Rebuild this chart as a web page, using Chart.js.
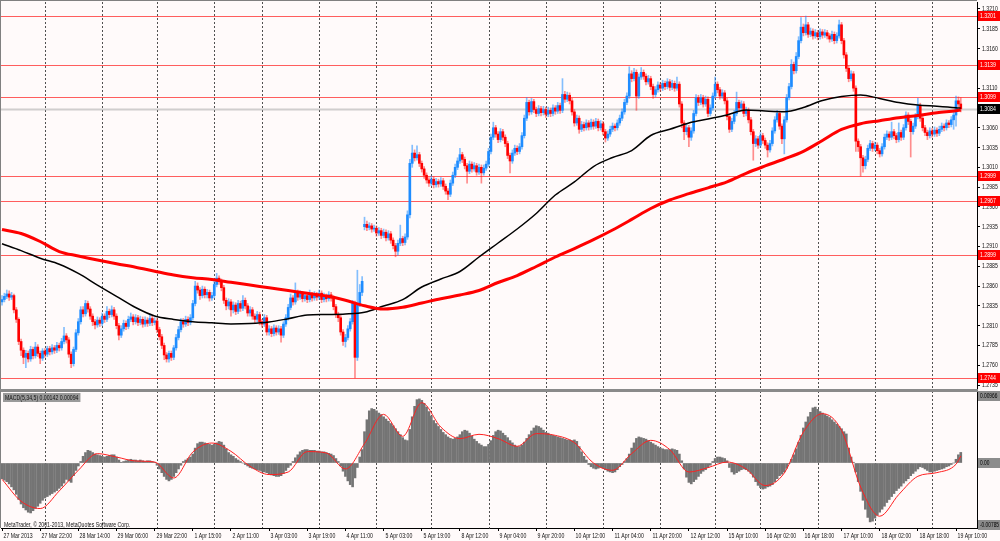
<!DOCTYPE html>
<html>
<head>
<meta charset="utf-8">
<script src="https://cdn.jsdelivr.net/npm/chart.js"></script>
<style>
html,body{margin:0;padding:0;background:#fffafa;}
#wrap{position:relative;width:1000px;height:541px;overflow:hidden;background:#fffafa;}
canvas{position:absolute;left:0;}
</style>
</head>
<body>
<div id="wrap">
<canvas id="main" width="1000" height="391" style="top:0"></canvas>
<canvas id="macd" width="1000" height="150" style="top:391px"></canvas>
</div>
<script>
// ---------------- DATA ----------------
const timeLabels = ["27 Mar 2013","27 Mar 22:00","28 Mar 14:00","29 Mar 06:00","29 Mar 22:00","1 Apr 15:00","2 Apr 11:00","3 Apr 03:00","3 Apr 19:00","4 Apr 11:00","5 Apr 03:00","5 Apr 19:00","8 Apr 12:00","9 Apr 04:00","9 Apr 20:00","10 Apr 12:00","11 Apr 04:00","11 Apr 20:00","12 Apr 12:00","15 Apr 10:00","16 Apr 02:00","16 Apr 18:00","17 Apr 10:00","18 Apr 02:00","18 Apr 18:00","19 Apr 10:00"];
const timeLabelBars = [0,16,32,48,64,80,96,112,128,144,160,176,192,208,224,240,256,272,288,304,320,336,352,368,384,400];
const dayLines = [18,42,65,89,109,133,157,180,204,228,252,276,299,318,342,366,390];
const priceTicks = [1.2735,1.2760,1.2785,1.2810,1.2835,1.2860,1.2885,1.2910,1.2935,1.2960,1.2985,1.3010,1.3035,1.3060,1.3085,1.3110,1.3135,1.3160,1.3185,1.3210];
const levels = [1.3201,1.3139,1.3099,1.2999,1.2967,1.2899,1.2744];
const currentPrice = 1.3084;
const macdTitle = "MACD(5,34,5) 0.00142 0.00094";
const macdScaleLabels = ["0.00966","0.00","-0.00785"];
const copyright = "MetaTrader, \u00A9 2001-2013, MetaQuotes Software Corp.";

const open = [
1.2840,1.2843,1.2847,1.2850,1.2846,1.2848,1.2830,1.2818,1.2790,1.2779,
1.2770,1.2775,1.2768,1.2780,1.2772,1.2783,1.2775,1.2769,1.2778,1.2774,
1.2781,1.2777,1.2782,1.2779,1.2785,1.2782,1.2790,1.2797,1.2792,1.2774,
1.2762,1.2780,1.2801,1.2815,1.2830,1.2825,1.2838,1.2831,1.2822,1.2815,
1.2811,1.2817,1.2813,1.2822,1.2818,1.2828,1.2824,1.2830,1.2822,1.2810,
1.2798,1.2806,1.2813,1.2809,1.2818,1.2821,1.2815,1.2820,1.2814,1.2818,
1.2812,1.2817,1.2813,1.2819,1.2814,1.2816,1.2805,1.2796,1.2785,1.2773,
1.2768,1.2775,1.2770,1.2782,1.2795,1.2805,1.2815,1.2812,1.2818,1.2814,
1.2820,1.2838,1.2860,1.2855,1.2848,1.2856,1.2849,1.2852,1.2845,1.2848,
1.2862,1.2870,1.2866,1.2858,1.2842,1.2835,1.2840,1.2830,1.2836,1.2828,
1.2838,1.2832,1.2842,1.2835,1.2826,1.2830,1.2822,1.2818,1.2824,1.2815,
1.2812,1.2820,1.2802,1.2806,1.2800,1.2807,1.2802,1.2806,1.2798,1.2812,
1.2820,1.2833,1.2845,1.2840,1.2852,1.2846,1.2850,1.2844,1.2848,1.2843,
1.2849,1.2845,1.2849,1.2846,1.2851,1.2843,1.2847,1.2844,1.2849,1.2845,
1.2834,1.2824,1.2820,1.2802,1.2790,1.2795,1.2806,1.2815,1.2838,1.2770,
1.2838,1.2852,1.2935,1.2938,1.2934,1.2936,1.2932,1.2933,1.2927,1.2930,
1.2924,1.2928,1.2921,1.2926,1.2918,1.2911,1.2904,1.2914,1.2920,1.2915,
1.2922,1.2950,1.3015,1.3028,1.3022,1.3026,1.3015,1.3008,1.3000,1.2994,
1.2990,1.2995,1.2988,1.2992,1.2989,1.2993,1.2986,1.2980,1.2976,1.2990,
1.3000,1.3010,1.3018,1.3026,1.3020,1.3012,1.3005,1.3014,1.3008,1.3012,
1.3004,1.3010,1.3003,1.3009,1.3014,1.3030,1.3048,1.3060,1.3052,1.3045,
1.3055,1.3048,1.3040,1.3025,1.3018,1.3028,1.3034,1.3030,1.3036,1.3050,
1.3072,1.3092,1.3080,1.3093,1.3083,1.3078,1.3084,1.3079,1.3083,1.3077,
1.3082,1.3078,1.3085,1.3081,1.3088,1.3082,1.3102,1.3096,1.3101,1.3094,
1.3080,1.3066,1.3072,1.3058,1.3064,1.3060,1.3066,1.3061,1.3067,1.3062,
1.3068,1.3060,1.3065,1.3055,1.3047,1.3052,1.3058,1.3062,1.3060,1.3066,
1.3072,1.3080,1.3092,1.3100,1.3128,1.3122,1.3130,1.3100,1.3124,1.3130,
1.3125,1.3118,1.3122,1.3112,1.3102,1.3108,1.3114,1.3110,1.3116,1.3112,
1.3118,1.3111,1.3116,1.3110,1.3115,1.3090,1.3066,1.3055,1.3060,1.3048,
1.3056,1.3078,1.3098,1.3092,1.3098,1.3090,1.3096,1.3078,1.3085,1.3100,
1.3115,1.3108,1.3100,1.3104,1.3094,1.3074,1.3058,1.3068,1.3078,1.3092,
1.3085,1.3090,1.3078,1.3082,1.3070,1.3055,1.3040,1.3046,1.3038,1.3050,
1.3044,1.3038,1.3032,1.3040,1.3056,1.3070,1.3078,1.3062,1.3046,1.3070,
1.3098,1.3112,1.3140,1.3132,1.3150,1.3170,1.3187,1.3180,1.3190,1.3178,
1.3182,1.3176,1.3180,1.3175,1.3181,1.3177,1.3180,1.3176,1.3172,1.3178,
1.3170,1.3176,1.3190,1.3170,1.3152,1.3135,1.3122,1.3128,1.3110,1.3043,
1.3036,1.3022,1.3012,1.3020,1.3034,1.3040,1.3034,1.3038,1.3031,1.3027,
1.3036,1.3048,1.3052,1.3048,1.3055,1.3050,1.3045,1.3054,1.3048,1.3060,
1.3076,1.3068,1.3055,1.3062,1.3074,1.3088,1.3072,1.3060,1.3054,1.3050,
1.3056,1.3052,1.3057,1.3053,1.3058,1.3062,1.3060,1.3066,1.3064,1.3070,
1.3076,1.3094,1.3090];

const high = [
1.2848,1.2851,1.2855,1.2854,1.2852,1.2850,1.2833,1.2820,1.2793,1.2782,
1.2779,1.2778,1.2784,1.2783,1.2789,1.2786,1.2778,1.2781,1.2781,1.2784,
1.2784,1.2786,1.2785,1.2789,1.2788,1.2794,1.2808,1.2800,1.2795,1.2777,
1.2783,1.2805,1.2819,1.2834,1.2834,1.2842,1.2841,1.2834,1.2825,1.2818,
1.2821,1.2820,1.2826,1.2825,1.2834,1.2831,1.2835,1.2833,1.2825,1.2813,
1.2810,1.2817,1.2816,1.2822,1.2826,1.2824,1.2824,1.2823,1.2822,1.2821,
1.2821,1.2820,1.2824,1.2822,1.2820,1.2819,1.2808,1.2799,1.2788,1.2776,
1.2778,1.2778,1.2785,1.2799,1.2809,1.2819,1.2819,1.2822,1.2821,1.2824,
1.2842,1.2866,1.2864,1.2858,1.2860,1.2859,1.2856,1.2855,1.2852,1.2866,
1.2876,1.2873,1.2869,1.2861,1.2845,1.2844,1.2843,1.2840,1.2839,1.2842,
1.2841,1.2848,1.2845,1.2838,1.2834,1.2833,1.2825,1.2828,1.2827,1.2818,
1.2824,1.2823,1.2810,1.2809,1.2811,1.2810,1.2810,1.2809,1.2815,1.2824,
1.2837,1.2850,1.2848,1.2864,1.2855,1.2854,1.2853,1.2852,1.2851,1.2855,
1.2852,1.2853,1.2852,1.2855,1.2854,1.2851,1.2850,1.2853,1.2852,1.2848,
1.2837,1.2827,1.2823,1.2805,1.2799,1.2810,1.2819,1.2842,1.2841,1.2880,
1.2862,1.2872,1.2947,1.2942,1.2940,1.2939,1.2937,1.2936,1.2934,1.2933,
1.2932,1.2931,1.2930,1.2929,1.2921,1.2914,1.2918,1.2937,1.2923,1.2926,
1.2955,1.3020,1.3038,1.3032,1.3037,1.3029,1.3018,1.3011,1.3003,1.2997,
1.2999,1.2998,1.2996,1.2995,1.2997,1.2996,1.2989,1.2983,1.2994,1.3004,
1.3014,1.3022,1.3034,1.3029,1.3023,1.3015,1.3018,1.3017,1.3016,1.3015,
1.3014,1.3013,1.3013,1.3018,1.3034,1.3052,1.3067,1.3063,1.3055,1.3059,
1.3058,1.3051,1.3043,1.3028,1.3032,1.3038,1.3037,1.3040,1.3054,1.3076,
1.3098,1.3095,1.3097,1.3096,1.3086,1.3088,1.3087,1.3087,1.3086,1.3086,
1.3085,1.3089,1.3088,1.3092,1.3091,1.3122,1.3106,1.3105,1.3104,1.3097,
1.3083,1.3076,1.3075,1.3068,1.3067,1.3070,1.3069,1.3071,1.3070,1.3072,
1.3071,1.3069,1.3068,1.3058,1.3056,1.3062,1.3066,1.3065,1.3070,1.3076,
1.3084,1.3096,1.3104,1.3137,1.3132,1.3135,1.3133,1.3128,1.3136,1.3133,
1.3128,1.3126,1.3125,1.3115,1.3112,1.3118,1.3117,1.3120,1.3119,1.3122,
1.3121,1.3120,1.3119,1.3124,1.3118,1.3093,1.3069,1.3064,1.3063,1.3060,
1.3082,1.3102,1.3101,1.3102,1.3101,1.3100,1.3099,1.3089,1.3104,1.3124,
1.3118,1.3111,1.3108,1.3107,1.3097,1.3077,1.3072,1.3082,1.3105,1.3095,
1.3094,1.3093,1.3086,1.3085,1.3073,1.3058,1.3050,1.3049,1.3054,1.3053,
1.3047,1.3041,1.3044,1.3060,1.3074,1.3082,1.3081,1.3065,1.3074,1.3102,
1.3116,1.3146,1.3143,1.3155,1.3175,1.3199,1.3191,1.3201,1.3193,1.3186,
1.3185,1.3184,1.3183,1.3185,1.3184,1.3184,1.3183,1.3179,1.3182,1.3181,
1.3180,1.3196,1.3193,1.3173,1.3155,1.3138,1.3132,1.3131,1.3113,1.3046,
1.3039,1.3025,1.3024,1.3038,1.3044,1.3043,1.3042,1.3041,1.3034,1.3040,
1.3052,1.3056,1.3055,1.3067,1.3058,1.3053,1.3066,1.3057,1.3064,1.3080,
1.3079,1.3071,1.3066,1.3078,1.3097,1.3091,1.3075,1.3063,1.3057,1.3060,
1.3059,1.3061,1.3060,1.3062,1.3066,1.3065,1.3070,1.3069,1.3074,1.3080,
1.3100,1.3099,1.3098];

const low = [
1.2836,1.2840,1.2844,1.2842,1.2843,1.2826,1.2814,1.2786,1.2772,1.2762,
1.2757,1.2764,1.2765,1.2768,1.2769,1.2771,1.2762,1.2766,1.2770,1.2771,
1.2773,1.2774,1.2775,1.2776,1.2778,1.2779,1.2787,1.2788,1.2770,1.2757,
1.2759,1.2777,1.2798,1.2812,1.2821,1.2822,1.2827,1.2818,1.2810,1.2806,
1.2808,1.2809,1.2810,1.2814,1.2815,1.2820,1.2821,1.2818,1.2806,1.2792,
1.2795,1.2803,1.2805,1.2806,1.2815,1.2811,1.2812,1.2810,1.2811,1.2808,
1.2809,1.2809,1.2810,1.2810,1.2811,1.2801,1.2792,1.2781,1.2767,1.2764,
1.2764,1.2766,1.2767,1.2779,1.2792,1.2802,1.2808,1.2809,1.2810,1.2811,
1.2817,1.2835,1.2851,1.2843,1.2845,1.2845,1.2845,1.2841,1.2842,1.2845,
1.2859,1.2862,1.2854,1.2838,1.2830,1.2831,1.2822,1.2826,1.2824,1.2825,
1.2828,1.2829,1.2831,1.2822,1.2822,1.2818,1.2814,1.2815,1.2811,1.2808,
1.2809,1.2798,1.2798,1.2796,1.2797,1.2798,1.2799,1.2789,1.2795,1.2809,
1.2817,1.2830,1.2836,1.2837,1.2842,1.2843,1.2840,1.2841,1.2839,1.2840,
1.2841,1.2842,1.2842,1.2843,1.2839,1.2840,1.2840,1.2841,1.2841,1.2830,
1.2820,1.2815,1.2798,1.2785,1.2783,1.2792,1.2803,1.2812,1.2744,1.2766,
1.2834,1.2848,1.2931,1.2930,1.2931,1.2928,1.2929,1.2923,1.2924,1.2920,
1.2921,1.2917,1.2918,1.2914,1.2907,1.2897,1.2899,1.2911,1.2911,1.2912,
1.2919,1.2946,1.3010,1.3018,1.3019,1.3011,1.3004,1.2996,1.2990,1.2986,
1.2987,1.2984,1.2985,1.2985,1.2986,1.2982,1.2976,1.2969,1.2973,1.2987,
1.2997,1.3007,1.3015,1.3016,1.3008,1.2990,1.3002,1.3004,1.3005,1.3000,
1.3001,1.2990,1.3000,1.3006,1.3011,1.3027,1.3045,1.3048,1.3041,1.3042,
1.3044,1.3036,1.3021,1.3003,1.3015,1.3025,1.3026,1.3027,1.3033,1.3047,
1.3069,1.3076,1.3077,1.3079,1.3074,1.3075,1.3075,1.3076,1.3073,1.3074,
1.3074,1.3075,1.3077,1.3078,1.3078,1.3079,1.3092,1.3093,1.3090,1.3076,
1.3062,1.3063,1.3053,1.3055,1.3056,1.3057,1.3057,1.3058,1.3058,1.3059,
1.3056,1.3057,1.3051,1.3042,1.3044,1.3049,1.3055,1.3056,1.3057,1.3063,
1.3069,1.3077,1.3089,1.3097,1.3118,1.3119,1.3082,1.3097,1.3121,1.3121,
1.3114,1.3115,1.3108,1.3097,1.3099,1.3105,1.3106,1.3107,1.3108,1.3109,
1.3107,1.3108,1.3106,1.3107,1.3086,1.3060,1.3045,1.3051,1.3036,1.3044,
1.3053,1.3075,1.3088,1.3089,1.3086,1.3087,1.3074,1.3075,1.3082,1.3097,
1.3104,1.3096,1.3097,1.3090,1.3070,1.3054,1.3055,1.3065,1.3075,1.3081,
1.3082,1.3074,1.3075,1.3066,1.3051,1.3019,1.3036,1.3034,1.3035,1.3040,
1.3034,1.3023,1.3029,1.3037,1.3053,1.3067,1.3058,1.3040,1.3027,1.3067,
1.3095,1.3109,1.3128,1.3129,1.3147,1.3167,1.3176,1.3177,1.3174,1.3175,
1.3172,1.3173,1.3171,1.3172,1.3173,1.3174,1.3172,1.3168,1.3169,1.3166,
1.3167,1.3173,1.3166,1.3148,1.3131,1.3118,1.3119,1.3106,1.3030,1.3030,
1.2999,1.3004,1.3008,1.3017,1.3031,1.3030,1.3031,1.3027,1.3023,1.3024,
1.3033,1.3045,1.3044,1.3045,1.3046,1.3041,1.3042,1.3044,1.3045,1.3057,
1.3064,1.3023,1.3052,1.3059,1.3071,1.3068,1.3056,1.3050,1.3045,1.3047,
1.3048,1.3049,1.3049,1.3050,1.3055,1.3056,1.3057,1.3060,1.3061,1.3058,
1.3062,1.3086,1.3080];

const close = [
1.2843,1.2847,1.2850,1.2846,1.2848,1.2830,1.2818,1.2790,1.2779,1.2770,
1.2775,1.2768,1.2780,1.2772,1.2783,1.2775,1.2769,1.2778,1.2774,1.2781,
1.2777,1.2782,1.2779,1.2785,1.2782,1.2790,1.2797,1.2792,1.2774,1.2762,
1.2780,1.2801,1.2815,1.2830,1.2825,1.2838,1.2831,1.2822,1.2815,1.2811,
1.2817,1.2813,1.2822,1.2818,1.2828,1.2824,1.2830,1.2822,1.2810,1.2798,
1.2806,1.2813,1.2809,1.2818,1.2821,1.2815,1.2820,1.2814,1.2818,1.2812,
1.2817,1.2813,1.2819,1.2814,1.2816,1.2805,1.2796,1.2785,1.2773,1.2768,
1.2775,1.2770,1.2782,1.2795,1.2805,1.2815,1.2812,1.2818,1.2814,1.2820,
1.2838,1.2860,1.2855,1.2848,1.2856,1.2849,1.2852,1.2845,1.2848,1.2862,
1.2870,1.2866,1.2858,1.2842,1.2835,1.2840,1.2830,1.2836,1.2828,1.2838,
1.2832,1.2842,1.2835,1.2826,1.2830,1.2822,1.2818,1.2824,1.2815,1.2812,
1.2820,1.2802,1.2806,1.2800,1.2807,1.2802,1.2806,1.2798,1.2812,1.2820,
1.2833,1.2845,1.2840,1.2852,1.2846,1.2850,1.2844,1.2848,1.2843,1.2849,
1.2845,1.2849,1.2846,1.2851,1.2843,1.2847,1.2844,1.2849,1.2845,1.2834,
1.2824,1.2820,1.2802,1.2790,1.2795,1.2806,1.2815,1.2838,1.2770,1.2838,
1.2852,1.2866,1.2938,1.2934,1.2936,1.2932,1.2933,1.2927,1.2930,1.2924,
1.2928,1.2921,1.2926,1.2918,1.2911,1.2904,1.2914,1.2920,1.2915,1.2922,
1.2950,1.3015,1.3028,1.3022,1.3026,1.3015,1.3008,1.3000,1.2994,1.2990,
1.2995,1.2988,1.2992,1.2989,1.2993,1.2986,1.2980,1.2976,1.2990,1.3000,
1.3010,1.3018,1.3026,1.3020,1.3012,1.3005,1.3014,1.3008,1.3012,1.3004,
1.3010,1.3003,1.3009,1.3014,1.3030,1.3048,1.3060,1.3052,1.3045,1.3055,
1.3048,1.3040,1.3025,1.3018,1.3028,1.3034,1.3030,1.3036,1.3050,1.3072,
1.3092,1.3080,1.3093,1.3083,1.3078,1.3084,1.3079,1.3083,1.3077,1.3082,
1.3078,1.3085,1.3081,1.3088,1.3082,1.3102,1.3096,1.3101,1.3094,1.3080,
1.3066,1.3072,1.3058,1.3064,1.3060,1.3066,1.3061,1.3067,1.3062,1.3068,
1.3060,1.3065,1.3055,1.3047,1.3052,1.3058,1.3062,1.3060,1.3066,1.3072,
1.3080,1.3092,1.3100,1.3128,1.3122,1.3130,1.3100,1.3124,1.3130,1.3125,
1.3118,1.3122,1.3112,1.3102,1.3108,1.3114,1.3110,1.3116,1.3112,1.3118,
1.3111,1.3116,1.3110,1.3115,1.3090,1.3066,1.3055,1.3060,1.3048,1.3056,
1.3078,1.3098,1.3092,1.3098,1.3090,1.3096,1.3078,1.3085,1.3100,1.3115,
1.3108,1.3100,1.3104,1.3094,1.3074,1.3058,1.3068,1.3078,1.3092,1.3085,
1.3090,1.3078,1.3082,1.3070,1.3055,1.3040,1.3046,1.3038,1.3050,1.3044,
1.3038,1.3032,1.3040,1.3056,1.3070,1.3078,1.3062,1.3046,1.3070,1.3098,
1.3112,1.3140,1.3132,1.3150,1.3170,1.3187,1.3180,1.3190,1.3178,1.3182,
1.3176,1.3180,1.3175,1.3181,1.3177,1.3180,1.3176,1.3172,1.3178,1.3170,
1.3176,1.3190,1.3170,1.3152,1.3135,1.3122,1.3128,1.3110,1.3043,1.3036,
1.3022,1.3012,1.3020,1.3034,1.3040,1.3034,1.3038,1.3031,1.3027,1.3036,
1.3048,1.3052,1.3048,1.3055,1.3050,1.3045,1.3054,1.3048,1.3060,1.3076,
1.3068,1.3055,1.3062,1.3074,1.3088,1.3072,1.3060,1.3054,1.3050,1.3056,
1.3052,1.3057,1.3053,1.3058,1.3062,1.3060,1.3066,1.3064,1.3070,1.3076,
1.3094,1.3090,1.3084];

// moving averages, sampled at these bars
const maBars = [0,8,16,24,32,40,48,56,64,72,80,88,96,104,112,120,128,136,144,152,160,168,176,184,192,200,208,216,224,232,240,248,256,264,272,280,288,296,304,312,320,328,336,344,352,360,368,376,384,392,400,402];
const maSlow = [1.29314,1.29264,1.29163,1.29036,1.28980,1.28929,1.28882,1.28838,1.28788,1.28740,1.28706,1.28683,1.28647,1.28613,1.28578,1.28544,1.28508,1.28474,1.28421,1.28351,1.28310,1.28332,1.28386,1.28441,1.28487,1.28544,1.28645,1.28733,1.28847,1.28967,1.29074,1.29186,1.29308,1.29442,1.29580,1.29687,1.29767,1.29841,1.29917,1.30024,1.30117,1.30205,1.30301,1.30439,1.30578,1.30651,1.30689,1.30726,1.30755,1.30790,1.30815,1.30824];
const maFast = [1.29134,1.29048,1.28952,1.28876,1.28760,1.28613,1.28471,1.28329,1.28222,1.28179,1.28150,1.28136,1.28122,1.28127,1.28146,1.28188,1.28234,1.28241,1.28247,1.28270,1.28348,1.28428,1.28588,1.28689,1.28784,1.28967,1.29144,1.29321,1.29517,1.29750,1.29915,1.30110,1.30224,1.30312,1.30502,1.30580,1.30660,1.30710,1.30761,1.30824,1.30811,1.30803,1.30856,1.30944,1.30995,1.31014,1.30969,1.30919,1.30887,1.30871,1.30852,1.30846];

const macdHist = [
-0.0021,-0.0023,-0.0025,-0.0028,-0.0032,-0.0036,-0.0042,-0.0049,-0.0055,-0.0060,
-0.0063,-0.0066,-0.0067,-0.0064,-0.0061,-0.0058,-0.0054,-0.0050,-0.0047,-0.0045,
-0.0043,-0.0041,-0.0039,-0.0037,-0.0034,-0.0031,-0.0027,-0.0022,-0.0024,-0.0026,
-0.0017,-0.0010,-0.0004,0.0002,0.0009,0.0014,0.0017,0.0016,0.0014,0.0012,
0.0011,0.0010,0.0009,0.0008,0.0009,0.0010,0.0011,0.0011,0.0008,0.0004,
0.0001,0.0002,0.0003,0.0004,0.0005,0.0004,0.0004,0.0003,0.0004,0.0003,
0.0002,0.0003,0.0003,0.0002,0.0001,-0.0003,-0.0008,-0.0013,-0.0018,-0.0022,
-0.0024,-0.0022,-0.0018,-0.0013,-0.0008,-0.0003,0.0002,0.0004,0.0006,0.0008,
0.0012,0.0020,0.0026,0.0028,0.0028,0.0027,0.0026,0.0025,0.0024,0.0025,
0.0027,0.0029,0.0028,0.0024,0.0019,0.0014,0.0011,0.0009,0.0006,0.0004,
0.0002,0.0000,-0.0002,-0.0004,-0.0006,-0.0007,-0.0008,-0.0009,-0.0010,-0.0011,
-0.0012,-0.0013,-0.0015,-0.0016,-0.0017,-0.0018,-0.0018,-0.0017,-0.0014,-0.0010,
-0.0006,-0.0003,0.0002,0.0007,0.0011,0.0015,0.0017,0.0018,0.0018,0.0017,
0.0017,0.0017,0.0016,0.0016,0.0015,0.0015,0.0014,0.0013,0.0012,0.0010,
0.0006,0.0002,-0.0004,-0.0011,-0.0018,-0.0024,-0.0029,-0.0032,-0.0020,-0.0006,
0.0008,0.0018,0.0042,0.0058,0.0070,0.0073,0.0072,0.0070,0.0067,0.0065,
0.0062,0.0059,0.0056,0.0053,0.0050,0.0046,0.0042,0.0038,0.0034,0.0031,
0.0030,0.0045,0.0062,0.0076,0.0085,0.0086,0.0084,0.0080,0.0075,0.0069,
0.0063,0.0057,0.0053,0.0049,0.0045,0.0041,0.0038,0.0035,0.0033,0.0032,
0.0033,0.0035,0.0038,0.0042,0.0044,0.0043,0.0040,0.0036,0.0032,0.0029,
0.0026,0.0024,0.0022,0.0022,0.0025,0.0030,0.0037,0.0042,0.0044,0.0043,
0.0040,0.0037,0.0034,0.0030,0.0027,0.0024,0.0022,0.0022,0.0024,0.0028,
0.0033,0.0038,0.0043,0.0047,0.0050,0.0049,0.0047,0.0044,0.0041,0.0040,
0.0038,0.0037,0.0036,0.0035,0.0034,0.0033,0.0032,0.0031,0.0031,0.0030,
0.0031,0.0029,0.0022,0.0015,0.0009,0.0004,-0.0002,-0.0005,-0.0007,-0.0008,
-0.0007,-0.0006,-0.0007,-0.0009,-0.0011,-0.0012,-0.0013,-0.0012,-0.0009,-0.0005,
-0.0002,0.0002,0.0006,0.0012,0.0020,0.0027,0.0033,0.0035,0.0034,0.0033,
0.0032,0.0030,0.0028,0.0026,0.0024,0.0022,0.0020,0.0019,0.0018,0.0018,
0.0018,0.0019,0.0018,0.0017,0.0012,0.0003,-0.0008,-0.0019,-0.0026,-0.0028,
-0.0025,-0.0022,-0.0018,-0.0014,-0.0011,-0.0009,-0.0006,-0.0003,0.0002,0.0006,
0.0008,0.0008,0.0007,0.0006,0.0003,-0.0006,-0.0012,-0.0015,-0.0013,-0.0011,
-0.0009,-0.0008,-0.0009,-0.0011,-0.0014,-0.0019,-0.0025,-0.0030,-0.0033,-0.0035,
-0.0034,-0.0032,-0.0031,-0.0029,-0.0025,-0.0021,-0.0017,-0.0015,-0.0012,-0.0007,
-0.0001,0.0005,0.0011,0.0019,0.0028,0.0037,0.0047,0.0055,0.0062,0.0068,
0.0074,0.0075,0.0072,0.0069,0.0067,0.0065,0.0063,0.0061,0.0058,0.0055,
0.0052,0.0049,0.0046,0.0042,0.0039,0.0020,0.0008,0.0001,-0.0012,-0.0025,
-0.0038,-0.0050,-0.0062,-0.0073,-0.0079,-0.0078,-0.0074,-0.0070,-0.0066,-0.0062,
-0.0058,-0.0053,-0.0049,-0.0045,-0.0041,-0.0037,-0.0034,-0.0031,-0.0027,-0.0024,
-0.0021,-0.0017,-0.0014,-0.0011,-0.0008,-0.0005,-0.0006,-0.0008,-0.0010,-0.0012,
-0.0012,-0.0011,-0.0010,-0.0009,-0.0008,-0.0007,-0.0005,-0.0004,-0.0002,0.0000,
0.0005,0.0011,0.00142];

// signal line sampled at maBars
const macdSignal = [-0.00218,-0.00513,-0.00611,-0.00375,-0.00098,0.00126,0.00080,0.00027,0.00013,-0.00201,0.00147,0.00268,0.00157,-0.00044,-0.00155,-0.00121,0.00153,0.00134,-0.00080,0.00260,0.00653,0.00358,0.00809,0.00482,0.00327,0.00385,0.00327,0.00224,0.00394,0.00371,0.00273,0.00000,-0.00098,0.00126,0.00304,0.00180,-0.00121,-0.00062,0.00013,-0.00080,-0.00303,-0.00134,0.00415,0.00662,0.00438,-0.00322,-0.00714,-0.00423,-0.00178,-0.00129,-0.00017,0.00094];

// ---------------- RENDER ----------------
const BG = '#fffafa';
const FONT = "'Liberation Sans','DejaVu Sans',sans-serif";
const SX = 0.74; // horizontal squeeze of the small terminal text
const XMIN = -0.42, XMAX = 408.8;

const bodyData = [], wickData = [], bodyColors = [], wickColors = [];
for (let i = 0; i < close.length; i++) {
  bodyData.push({x: i, y: [open[i], close[i]]});
  wickData.push({x: i, y: [low[i], high[i]]});
  const up = close[i] >= open[i];
  bodyColors.push(up ? '#1e8cff' : '#ff0000');
  wickColors.push(up ? 'rgba(30,140,255,0.55)' : 'rgba(255,30,30,0.5)');
}

function txt(ctx, text, x, y, size, color) {
  ctx.save();
  ctx.font = size + 'px ' + FONT;
  ctx.fillStyle = color;
  ctx.textBaseline = 'middle';
  ctx.textAlign = 'left';
  ctx.translate(x, y);
  ctx.scale(SX, 1);
  ctx.fillText(text, 0, 0);
  ctx.restore();
}
function txtWidth(ctx, text, size) {
  ctx.save(); ctx.font = size + 'px ' + FONT; const w = ctx.measureText(text).width * SX; ctx.restore(); return w;
}
function drawDayLines(chart) {
  const {ctx, chartArea: a, scales: {x}} = chart;
  ctx.save();
  ctx.strokeStyle = '#505050';
  ctx.lineWidth = 1;
  ctx.setLineDash([2, 2]);
  for (const b of dayLines) {
    const px = Math.round(x.getPixelForValue(b)) + 0.5;
    ctx.beginPath(); ctx.moveTo(px, a.top); ctx.lineTo(px, a.bottom); ctx.stroke();
  }
  ctx.restore();
}
function tag(ctx, x, yc, w, text, bg, fg, size) {
  const y = Math.round(yc);
  ctx.fillStyle = bg;
  ctx.fillRect(x, y - 5, w, 10);
  txt(ctx, text, x + 2, y + 0.5, size || 7, fg);
}
const bgPlugin = {
  id: 'bgfill',
  beforeDraw(chart) {
    const c = chart.ctx; c.save(); c.fillStyle = BG; c.fillRect(0, 0, chart.width, chart.height); c.restore();
  }
};

const mainPlugin = {
  id: 'mainDecor',
  beforeDatasetsDraw(chart) {
    const {ctx, chartArea: a, scales: {y}} = chart;
    drawDayLines(chart);
    ctx.save();
    const cy = Math.round(y.getPixelForValue(currentPrice)) + 0.5;
    ctx.strokeStyle = 'rgba(170,170,170,0.55)'; ctx.lineWidth = 2;
    ctx.beginPath(); ctx.moveTo(a.left, cy); ctx.lineTo(a.right, cy); ctx.stroke();
    ctx.strokeStyle = 'rgba(255,40,40,0.75)'; ctx.lineWidth = 1.2;
    for (const v of levels) {
      const py = Math.round(y.getPixelForValue(v)) + 0.5;
      ctx.beginPath(); ctx.moveTo(a.left, py); ctx.lineTo(a.right, py); ctx.stroke();
    }
    ctx.restore();
  },
  afterDraw(chart) {
    const {ctx, chartArea: a, scales: {y}} = chart;
    ctx.save();
    // price scale labels
    for (const v of priceTicks) txt(ctx, v.toFixed(4), a.right + 5, Math.round(y.getPixelForValue(v)) + 0.5, 7, '#111');
    for (const v of levels) tag(ctx, a.right + 1, y.getPixelForValue(v), 23, v.toFixed(4), '#ff0000', '#ffffff');
    tag(ctx, a.right + 1, y.getPixelForValue(currentPrice), 23, currentPrice.toFixed(4), '#000000', '#ffffff');
    ctx.fillStyle = '#808080';
    ctx.fillRect(0, 0, a.right, 1);
    ctx.fillRect(0, 0, 1, a.bottom);
    ctx.fillStyle = '#8a8a8a';
    ctx.fillRect(0, a.bottom, a.right + 1, 2);
    ctx.restore();
  }
};

new Chart(document.getElementById('main'), {
  type: 'bar',
  data: {
    datasets: [
      {type: 'line', data: maBars.map((b, k) => ({x: b, y: maSlow[k]})), borderColor: '#ff0000', borderWidth: 3, pointRadius: 0, cubicInterpolationMode: 'monotone', order: 0},
      {type: 'line', data: maBars.map((b, k) => ({x: b, y: maFast[k]})), borderColor: '#000000', borderWidth: 1.5, pointRadius: 0, cubicInterpolationMode: 'monotone', order: 0},
      {data: bodyData, backgroundColor: bodyColors, barThickness: 2, grouped: false, minBarLength: 1, order: 1},
      {data: wickData, backgroundColor: wickColors, barThickness: 1, grouped: false, order: 2}
    ]
  },
  options: {
    responsive: false, animation: false, devicePixelRatio: 1,
    layout: {padding: {left: 1, right: 0, top: 2, bottom: 2}},
    plugins: {legend: {display: false}, tooltip: {enabled: false}},
    scales: {
      x: {type: 'linear', min: XMIN, max: XMAX, offset: false, display: false},
      y: {
        position: 'right', min: 1.27300, max: 1.32188,
        afterFit(s) { s.width = 23; },
        afterBuildTicks(s) { s.ticks = priceTicks.map(v => ({value: v})); },
        ticks: {display: false},
        grid: {drawOnChartArea: false, drawTicks: true, tickLength: 3, color: '#000', offset: false},
        border: {display: true, color: '#000'}
      }
    }
  },
  plugins: [bgPlugin, mainPlugin]
});

const macdPlugin = {
  id: 'macdDecor',
  beforeDatasetsDraw(chart) { drawDayLines(chart); },
  afterDraw(chart) {
    const {ctx, chartArea: a, scales: {x, y}} = chart;
    ctx.save();
    ctx.fillStyle = '#8a8a8a';
    ctx.fillRect(0, 0, a.right + 1, 1);
    ctx.fillStyle = '#808080';
    ctx.fillRect(0, 0, 1, a.bottom);
    // title
    const tw = txtWidth(ctx, macdTitle, 7);
    ctx.fillStyle = '#9a9a9a';
    ctx.fillRect(3, 2, tw + 4, 9);
    txt(ctx, macdTitle, 5, 7, 7, '#111');
    // copyright
    txt(ctx, copyright, 4, 134, 7, '#111');
    // time labels
    timeLabelBars.forEach((b, k) => txt(ctx, timeLabels[k], Math.round(x.getPixelForValue(b)) + 1.5, a.bottom + 8, 7, '#111'));
    // scale tags
    tag(ctx, a.right + 1, 5, 23, macdScaleLabels[0], '#8c8c8c', '#000', 6.5);
    tag(ctx, a.right + 1, y.getPixelForValue(0), 23, macdScaleLabels[1], '#8c8c8c', '#000', 6.5);
    tag(ctx, a.right + 1, 134, 23, macdScaleLabels[2], '#8c8c8c', '#000', 6.5);
    ctx.restore();
  }
};

new Chart(document.getElementById('macd'), {
  type: 'bar',
  data: {
    datasets: [
      {type: 'line', data: maBars.map((b, k) => ({x: b, y: macdSignal[k]})), borderColor: '#ff2020', borderWidth: 1, pointRadius: 0, cubicInterpolationMode: 'monotone', order: 0},
      {data: macdHist.map((v, i) => ({x: i, y: v})), backgroundColor: '#747474', barThickness: 2, grouped: false, order: 1}
    ]
  },
  options: {
    responsive: false, animation: false, devicePixelRatio: 1,
    layout: {padding: {left: 1, right: 0, top: 0, bottom: 0}},
    plugins: {legend: {display: false}, tooltip: {enabled: false}},
    scales: {
      x: {
        type: 'linear', min: XMIN, max: XMAX, offset: false,
        afterBuildTicks(s) { s.ticks = timeLabelBars.map(v => ({value: v})); },
        afterFit(s) { s.height = 13; },
        ticks: {display: false},
        grid: {drawOnChartArea: false, drawTicks: true, tickLength: 3, color: '#000', offset: false},
        border: {display: true, color: '#000'}
      },
      y: {
        position: 'right', min: -0.00872, max: 0.00966,
        afterFit(s) { s.width = 23; },
        ticks: {display: false},
        grid: {display: true, drawOnChartArea: false, drawTicks: false},
        border: {display: true, color: '#000'}
      }
    }
  },
  plugins: [bgPlugin, macdPlugin]
});
</script>
</body>
</html>
